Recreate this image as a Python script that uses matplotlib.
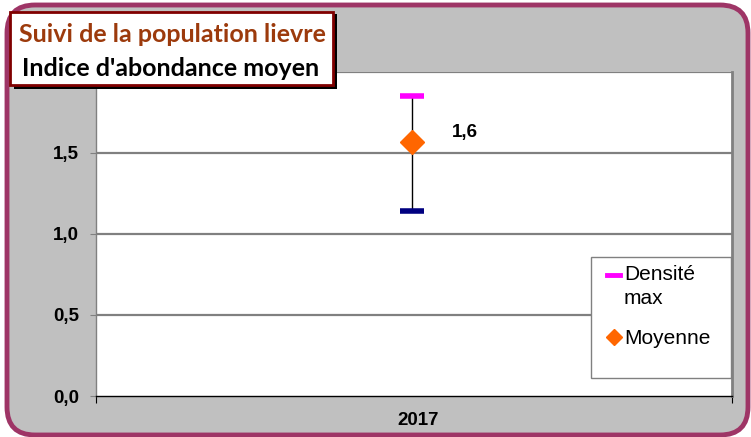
import matplotlib.pyplot as plt
from matplotlib.lines import Line2D
from matplotlib.patches import FancyBboxPatch, Rectangle

plt.rcParams["font.family"] = ["Liberation Sans", "DejaVu Sans"]

# Data
years = ["2017"]
moyenne = [1.57]
dens_max = [1.85]
dens_min = [1.14]
labels = ["1,6"]
yticks = [0.0, 0.5, 1.0, 1.5]
ytick_labels = ["0,0", "0,5", "1,0", "1,5"]

W, H = 751, 437
fig = plt.figure(figsize=(W / 100, H / 100), dpi=100)
fig.patch.set_facecolor("white")


def fx(px):
    return px / W


def fy(py):
    return (H - py) / H


# rounded outer frame
frame = FancyBboxPatch(
    (0.07, 0.02), 7.41, 4.30,
    boxstyle="round,pad=0,rounding_size=0.28",
    transform=fig.dpi_scale_trans, facecolor="#c0c0c0",
    edgecolor="#9e3566", linewidth=3.5, zorder=-5,
)
fig.add_artist(frame)

ax = fig.add_axes([fx(96), fy(396), (732 - 96) / W, (396 - 72) / H])
ax.set_zorder(1)
ax.set_facecolor("white")
ax.set_xlim(0, 1)
ax.set_ylim(0, 2.0)

for v in yticks[1:] + [2.0]:
    ax.axhline(v, color="#808080", linewidth=1.6, zorder=1)

ax.spines["left"].set_color("#808080")
ax.spines["left"].set_linewidth(1.0)
ax.spines["top"].set_visible(False)
ax.spines["right"].set_color("#808080")
ax.spines["right"].set_linewidth(2.0)
ax.spines["bottom"].set_color("black")
ax.spines["bottom"].set_linewidth(1.0)

ax.set_yticks(yticks)
ax.set_yticklabels(ytick_labels, fontsize=13.5, fontweight="bold")
ax.tick_params(axis="y", length=4, color="#808080", pad=8)
ax.set_xticks([0, 1])
ax.set_xticklabels(["", ""])
ax.tick_params(axis="x", length=5, color="black", direction="out")
ax.text(0.507, -0.048, years[0], transform=ax.transAxes, ha="center", va="top",
        fontsize=13.5, fontweight="bold")

xs = [0.497]
for x, m, hi, lo, lab in zip(xs, moyenne, dens_max, dens_min, labels):
    ax.plot([x, x], [lo, hi], color="black", linewidth=1, zorder=3)
    ax.plot([x], [hi], marker="_", markersize=17, markeredgewidth=4,
            color="#ff00ff", zorder=4)
    ax.plot([x], [lo], marker="_", markersize=17, markeredgewidth=4,
            color="#000080", zorder=4)
    ax.plot([x], [m], marker="D", markersize=12, color="#ff6600",
            markeredgecolor="#ff6600", zorder=5)
    ax.text(x + 0.062, m + 0.055, lab, fontsize=13.5, fontweight="bold",
            ha="left", va="center")

# legend (Excel style, fixed box)
legbox = Rectangle((fx(591), fy(378)), 140 / W, 121 / H,
                   transform=fig.transFigure, facecolor="white",
                   edgecolor="#808080", linewidth=1.0, zorder=7)
fig.add_artist(legbox)
fig.add_artist(Line2D([fx(607), fx(620)], [fy(275), fy(275)], color="#ff00ff",
                      linewidth=3.5, transform=fig.transFigure, zorder=8))
fig.add_artist(Line2D([fx(614)], [fy(337)], marker="D", markersize=8,
                      color="#ff6600", linestyle="none",
                      transform=fig.transFigure, zorder=8))
fig.text(fx(624), fy(275), "Densité", fontsize=15, ha="left", va="center",
         zorder=8)
fig.text(fx(624), fy(299), "max", fontsize=15, ha="left", va="center",
         zorder=8)
fig.text(fx(624), fy(338), "Moyenne", fontsize=15, ha="left", va="center",
         zorder=8)

# title box with shadow
shadow = Rectangle((fx(14), fy(89)), 323 / W, 75 / H,
                   transform=fig.transFigure, facecolor="black", zorder=10)
box = Rectangle((fx(10), fy(85)), 323 / W, 73 / H,
                transform=fig.transFigure, facecolor="white",
                edgecolor="#800000", linewidth=2, zorder=11)
fig.add_artist(shadow)
fig.add_artist(box)
fig.text(fx(172), fy(35), "Suivi de la population lievre",
         ha="center", va="center", fontsize=18, fontweight="bold",
         color="#9c3a0c", family="Lato", zorder=12)
fig.text(fx(171), fy(68), "Indice d'abondance moyen",
         ha="center", va="center", fontsize=18, fontweight="bold",
         color="black", family="Lato", zorder=12)

fig.savefig("out.png", dpi=100, facecolor=fig.get_facecolor())
